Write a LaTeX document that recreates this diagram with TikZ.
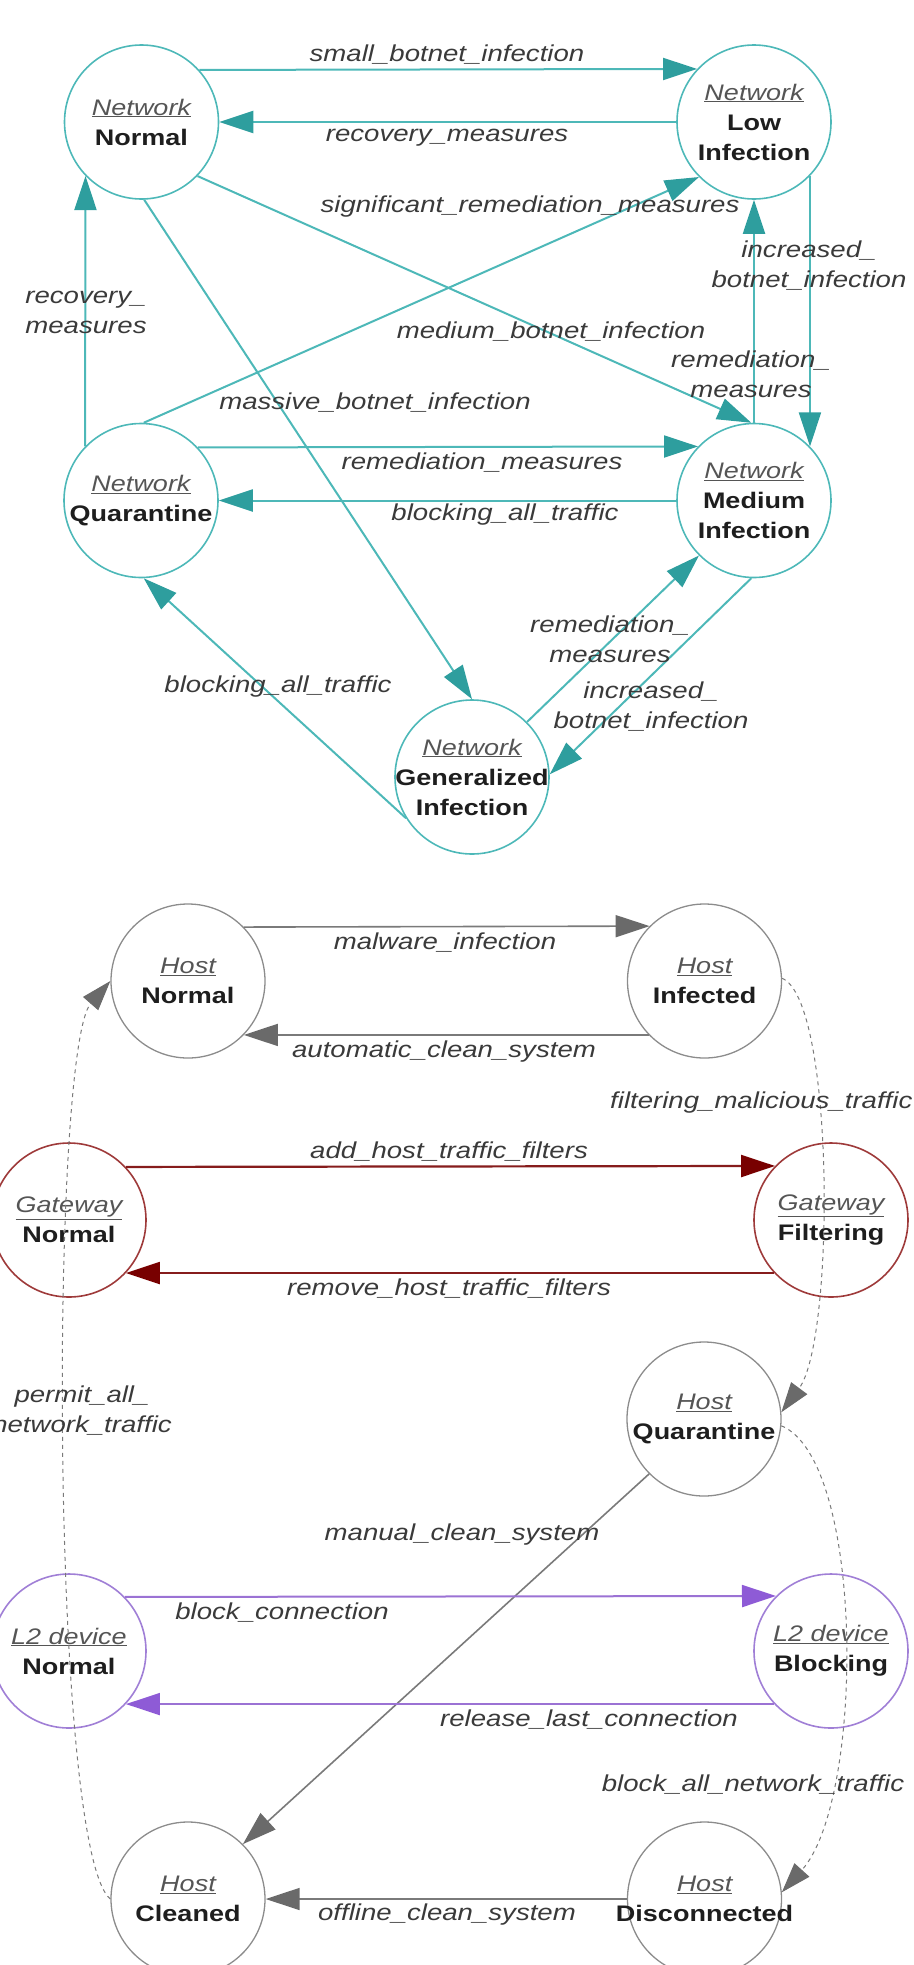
\documentclass[tikz,border=0pt]{standalone}
\usepackage{fontspec}
\setmainfont{Liberation Sans}[FakeStretch=1.2]
\usetikzlibrary{arrows.meta}
\definecolor{tealL}{HTML}{4DB8B8}
\definecolor{tealA}{HTML}{2E9E9E}
\definecolor{grayC}{HTML}{8C8C8C}
\definecolor{grayL}{HTML}{7A7A7A}
\definecolor{grayA}{HTML}{6A6A6A}
\definecolor{redC}{HTML}{9E3A3A}
\definecolor{redL}{HTML}{861C1C}
\definecolor{redA}{HTML}{780000}
\definecolor{purC}{HTML}{A07FD6}
\definecolor{purL}{HTML}{9B72D4}
\definecolor{purA}{HTML}{8E5BD6}
\definecolor{lblgray}{HTML}{3A3A3A}
\definecolor{kindgray}{HTML}{555555}
\definecolor{namegray}{HTML}{1E1E1E}
\newcommand{\kind}[1]{\makebox[0pt]{\color{kindgray}\itshape\underline{#1}}}
\newcommand{\nm}[1]{\makebox[0pt]{\color{namegray}\bfseries #1}}
\tikzset{
  st/.style={circle, draw, line width=1.6pt, minimum size=154pt, inner sep=0pt, align=center,
    font=\fontsize{22.5}{30}\selectfont},
  netst/.style={st, draw=tealL},
  hostst/.style={st, draw=grayC, line width=1.3pt},
  gwst/.style={st, draw=redC},
  l2st/.style={st, draw=purC},
  lbl/.style={font=\fontsize{23}{30}\selectfont\itshape, text=lblgray, align=center, inner sep=1pt},
  netedge/.style={draw=tealL, line width=2pt, -{Triangle[length=34pt,width=22pt,color=tealA]}},
  hostedge/.style={draw=grayL, line width=1.6pt, -{Triangle[length=34pt,width=22pt,color=grayA]}},
  hostdash/.style={draw=grayL, line width=1pt, dash pattern=on 4pt off 4pt, -{Triangle[length=30pt,width=20pt,color=grayA]}},
  gwedge/.style={draw=redL, line width=2.2pt, -{Triangle[length=34pt,width=22pt,color=redA]}},
  l2edge/.style={draw=purL, line width=2pt, -{Triangle[length=34pt,width=22pt,color=purA]}},
}
\begin{document}
\begin{tikzpicture}[x=1pt,y=-1pt]
\useasboundingbox (0,0) rectangle (913,1965);

% Network states
\node[netst] (NN) at (141.5,122) {\kind{Network}\\\nm{Normal}};
\node[netst] (NL) at (754,122) {\kind{Network}\\\nm{Low}\\\nm{Infection}};
\node[netst] (NQ) at (141,500.5) {\kind{Network}\\\nm{Quarantine}};
\node[netst] (NM) at (754,500.5) {\kind{Network}\\\nm{Medium}\\\nm{Infection}};
\node[netst] (NG) at (472,777) {\kind{Network}\\\nm{Generalized}\\\nm{Infection}};

% Host states
\node[hostst] (HN) at (188,981) {\kind{Host}\\\nm{Normal}};
\node[hostst] (HI) at (704.5,981) {\kind{Host}\\\nm{Infected}};
\node[hostst] (HQ) at (704,1419) {\kind{Host}\\\nm{Quarantine}};
\node[hostst] (HC) at (188,1899) {\kind{Host}\\\nm{Cleaned}};
\node[hostst] (HD) at (704.5,1899) {\kind{Host}\\\nm{Disconnected}};

% Gateway states
\node[gwst] (GN) at (69,1220) {\kind{Gateway}\\\nm{Normal}};
\node[gwst] (GF) at (831,1220) {\kind{Gateway}\\\nm{Filtering}};

% L2 device states
\node[l2st] (LN) at (69,1651) {\kind{L2 device}\\\nm{Normal}};
\node[l2st] (LB) at (831,1651) {\kind{L2 device}\\\nm{Blocking}};

% Network transitions
\draw[netedge] (NN.42.5) -- (NL.137.5);
\draw[netedge] (NL.180) -- (NN.0);
\draw[netedge] (NN.-44) -- (NM.92);
\draw[netedge] (NQ.88) -- (NL.225);
\draw[netedge] (NL.-44) -- (NM.44);
\draw[netedge] (NM.90) -- (NL.270);
\draw[netedge] (NQ.136) -- (NN.224);
\draw[netedge] (NN.-88) -- (NG.90);
\draw[netedge] (NQ.43.5) -- (NM.136.5);
\draw[netedge] (NM.180) -- (NQ.0);
\draw[netedge] (NG.212) -- (NQ.-88);
\draw[netedge] (NG.45) -- (NM.225);
\draw[netedge] (NM.-92) -- (NG.2);

\node[lbl] (l1) at (447,55) {small\_botnet\_infection};
\node[lbl] (l2) at (447,138) {recovery\_measures};
\node[lbl] (l3) at (551,332) {medium\_botnet\_infection};
\node[lbl] (l4) at (530,207) {significant\_remediation\_measures};
\node[lbl] (l5) at (809,266) {increased\_\\botnet\_infection};
\node[lbl] (l6) at (751,374) {remediation\_\\measures};
\node[lbl] (l7) at (86,312) {recovery\_\\measures};
\node[lbl] (l8) at (375,403) {massive\_botnet\_infection};
\node[lbl] (l9) at (482,463) {remediation\_measures};
\node[lbl] (l10) at (505,515) {blocking\_all\_traffic};
\node[lbl] (l11) at (278,687) {blocking\_all\_traffic};
\node[lbl] (l12) at (610,639) {remediation\_\\measures};
\node[lbl] (l13) at (651,707) {increased\_\\botnet\_infection};

% Host transitions
\draw[hostedge] (HN.44.5) -- (HI.135.5);
\draw[hostedge] (HI.224.5) -- (HN.-44.5);
\draw[hostdash] (HI.2) .. controls (835,1000) and (835,1340) .. (HQ.5);
\draw[hostdash] (HQ.-5) .. controls (865,1460) and (865,1800) .. (HD.5);
\draw[hostedge] (HD.180) -- (HC.0);
\draw[hostedge] (HQ.225) -- (HC.45);
\draw[hostdash] (HC.180) .. controls (50,1850) and (50,1050) .. (HN.180);

\node[lbl] (l14) at (445,943) {malware\_infection};
\node[lbl] (l15) at (444,1052) {automatic\_clean\_system};
\node[lbl, anchor=west] (l16) at (609,1103) {filtering\_malicious\_traffic};
\node[lbl] (l17) at (753,1785) {block\_all\_network\_traffic};
\node[lbl] (l18) at (447,1915) {offline\_clean\_system};
\node[lbl] (l19) at (462,1535) {manual\_clean\_system};
\node[lbl] (l20) at (82,1411) {permit\_all\_\\network\_traffic};

% Gateway transitions
\draw[gwedge] (GN.43.5) -- (GF.136.5);
\draw[gwedge] (GF.223.5) -- (GN.-43.5);
\node[lbl] (l21) at (449,1152) {add\_host\_traffic\_filters};
\node[lbl] (l22) at (449,1289) {remove\_host\_traffic\_filters};

% L2 device transitions
\draw[l2edge] (LN.44.5) -- (LB.135.5);
\draw[l2edge] (LB.223.5) -- (LN.-43.5);
\node[lbl] (l23) at (282,1613) {block\_connection};
\node[lbl] (l24) at (589,1720) {release\_last\_connection};
\end{tikzpicture}
\end{document}
